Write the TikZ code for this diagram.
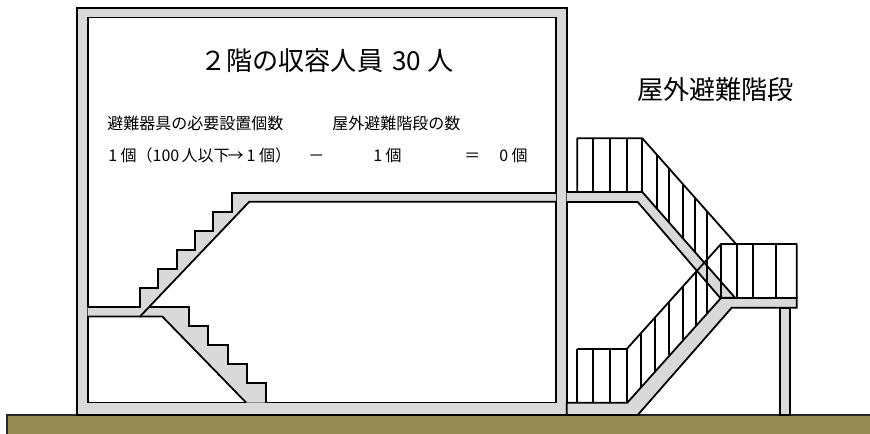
\documentclass[tikz,border=0pt]{standalone}
\usepackage{fontspec}
\setmainfont{Noto Sans CJK JP}
\tikzset{
  struct/.style={draw=black,fill=wallgray,line width=1.35pt,line join=miter},
  rail/.style={draw=black,line width=1.35pt,line join=round},
  small/.style={anchor=west,inner sep=0pt,font=\fontsize{12pt}{14pt}\selectfont},
  big/.style={anchor=west,inner sep=0pt,font=\fontsize{19.6pt}{24pt}\selectfont}
}
\definecolor{wallgray}{HTML}{D9D9D9}
\definecolor{earth}{HTML}{948A54}
\begin{document}
\begin{tikzpicture}[x=0.75pt,y=-0.75pt]
\useasboundingbox (0,0) rectangle (870,433);
% ground
\draw[draw=black!85,fill=earth,line width=1.35pt] (7,434) -- (7,415) -- (871,415) -- (871,434);
% column
\draw[struct] (780,307.7) rectangle (790,415);
% building walls
\draw[struct,even odd rule] (76.7,8) rectangle (566.7,415) (87.7,17.5) rectangle (556,402.5);
% inner lower flight
\fill[wallgray] (140,316.5) -- (150,307) -- (189.3,307) |- (208.3,326) |- (227.7,345) |- (247,364) |- (266,383.3) -- (266,402.5) -- (246,402.5) -- (162.3,316.5) -- cycle;
\draw[rail,line join=miter] (150,307) -- (189.3,307) |- (208.3,326) |- (227.7,345) |- (247,364) |- (266,383.3) -- (266,402.5);
\draw[rail] (246,402.5) -- (162.3,316.5) -- (140,316.5);
% inner upper flight and landing
\fill[wallgray] (556,192.7) -- (231.7,192.7) |- (212.7,211.7) |- (194.7,230.7) |- (176.7,250) |- (158.3,269) |- (139.7,288.3) |- (87.7,307) -- (87.7,316.5) -- (140,316.5) -- (249.3,201.7) -- (556,201.7) -- cycle;
\draw[rail,line join=miter] (556,192.7) -- (231.7,192.7) |- (212.7,211.7) |- (194.7,230.7) |- (176.7,250) |- (158.3,269) |- (139.7,288.3) |- (87.7,307);
\draw[rail,line join=miter] (87.7,316.5) -- (140,316.5) -- (249.3,201.7) -- (556,201.7);
% upper railing
\foreach \vx in {593.3,610,626.7}
  \draw[rail] (\vx,138.3) -- (\vx,192);
\draw[rail] (577.3,192) -- (577.3,138.3) -- (642.3,138.3) -- (736,244);
\draw[rail] (642.3,138.3) -- (642.3,192);
\foreach \vx in {656.7,669.3,682.7,695,707.3}{
  \pgfmathsetmacro{\vt}{138.3+(\vx-642.3)*1.128}
  \pgfmathsetmacro{\vb}{192+(\vx-642.3)*1.133}
  \draw[rail] (\vx,\vt) -- (\vx,\vb);
}
% upper outside slab
\draw[struct] (566.7,192) -- (642.3,192) -- (735,297.7) -- (720,297.7) -- (637.7,202) -- (566.7,202);
% lower outside slab and top landing
\draw[struct] (721,298) -- (796.7,298) -- (796.7,307.7) -- (731.7,307.7) -- (637.7,415) -- (566.7,415) -- (566.7,402.7) -- (627.3,402.7) -- cycle;
% lower railing
\foreach \vx in {577.3,593.3,610,626.7}
  \draw[rail] (\vx,349) -- (\vx,402.7);
\draw[rail] (577.3,349) -- (626.7,349) -- (721,244) -- (796.7,244) -- (796.7,298);
\foreach \vx in {640.7,655,669,682.7,695.7,707.3}{
  \pgfmathsetmacro{\vt}{349-(\vx-626.7)*1.1135}
  \pgfmathsetmacro{\vb}{402.7-(\vx-626.7)*1.119}
  \draw[rail] (\vx,\vt) -- (\vx,\vb);
}
\foreach \vx in {721,736.7,753.3,775.7}
  \draw[rail] (\vx,244) -- (\vx,298);
% texts
\node[big] (title) at (200,60.5) {２階の収容人員\hspace{2.5pt} 30 人};
\node[big] (outer) at (637,90) {屋外避難階段};
\node[small] (h1) at (107,123.5) {避難器具の必要設置個数};
\node[small] (h2) at (332,123.5) {屋外避難階段の数};
\node[small] (r1) at (108,155.5) {1 個（100\hspace{-1pt} 人以下\hspace{-1.5pt}→\hspace{-0.5pt} 1 個）};
\node[small] (r2) at (308,158.5) {－};
\node[small] (r3) at (373,155.5) {1 個};
\node[small] (r4) at (464,157.5) {＝};
\node[small] (r5) at (499,155.5) {0 個};
\end{tikzpicture}
\end{document}
